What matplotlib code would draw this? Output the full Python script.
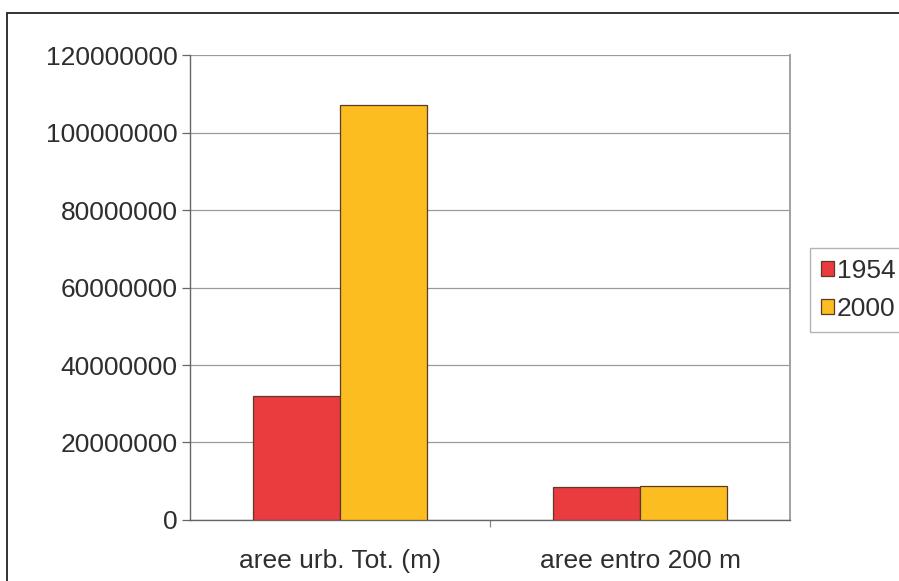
import matplotlib.pyplot as plt
import numpy as np
from matplotlib.patches import Rectangle

# ==========================================
# DATASET
# ==========================================

kategori = [
    'aree urb. Tot. (m)',
    'aree entro 200 m'
]

anni = ['1954', '2000']

valori_1954 = [32100000, 8500000]
valori_2000 = [107200000, 8850000]

yticks = [0, 20000000, 40000000, 60000000, 80000000, 100000000, 120000000]

# ==========================================
# STILE
# ==========================================

plt.rcParams['font.family'] = ['Liberation Sans', 'DejaVu Sans']

col_1954 = '#EA3B3E'
col_2000 = '#FBBD1F'
col_bordo = '#5B3A2C'
col_testo = '#2E2E2E'
col_griglia = '#9A9A9A'

# ==========================================
# MEMBUAT GRAFIK
# ==========================================

fig = plt.figure(figsize=(8.99, 5.81), dpi=100)

ax = fig.add_axes([0.2113, 0.105, 0.6675, 0.8003])

x = np.arange(len(kategori))
w = 0.29

ax.bar(x - w / 2, valori_1954, w, color=col_1954,
       edgecolor=col_bordo, linewidth=0.9, label=anni[0], zorder=3)

ax.bar(x + w / 2, valori_2000, w, color=col_2000,
       edgecolor=col_bordo, linewidth=0.9, label=anni[1], zorder=3)

# ==========================================
# ASSI E GRIGLIA
# ==========================================

ax.set_xlim(-0.5, 1.5)
ax.set_ylim(0, 120000000)

ax.set_yticks(yticks)
ax.set_yticklabels([str(v) for v in yticks])

ax.set_xticks(x)
ax.set_xticklabels(kategori)
ax.set_xticks([0.5], minor=True)

ax.tick_params(axis='y', length=6, width=0.9, color='#666666',
               labelsize=19, labelcolor=col_testo, pad=3)
ax.tick_params(axis='x', which='major', length=0,
               labelsize=19, labelcolor=col_testo, pad=21)
ax.tick_params(axis='x', which='minor', length=5, width=0.9, color='#888888')

ax.grid(axis='y', color=col_griglia, linewidth=0.9, zorder=0)

ax.spines['top'].set_visible(False)

ax.spines['left'].set_color('#666666')
ax.spines['bottom'].set_color('#666666')
ax.spines['right'].set_color('#A0A0A0')
ax.spines['left'].set_linewidth(1.0)
ax.spines['bottom'].set_linewidth(1.0)
ax.spines['right'].set_linewidth(1.4)

# ==========================================
# LEGENDA
# ==========================================

leg = fig.legend(
    loc='center left',
    bbox_to_anchor=(810 / 899, 1 - 290 / 581),
    borderaxespad=0,
    fontsize=19,
    frameon=True,
    fancybox=False,
    handlelength=0.5,
    handleheight=0.5,
    handletextpad=0.12,
    labelspacing=0.55,
    borderpad=0.4,
    labelcolor=col_testo
)

leg.get_frame().set_edgecolor('#A0A0A0')
leg.get_frame().set_linewidth(1.0)

# ==========================================
# CORNICE ESTERNA
# ==========================================

fig.patches.append(Rectangle(
    (7 / 899, -0.05), 1.2, 1 - 13 / 581 + 0.05,
    transform=fig.transFigure, fill=False,
    edgecolor='#222222', linewidth=1.3
))

# ==========================================
# SIMPAN GAMBAR
# ==========================================

fig.savefig('out.png', dpi=100)
